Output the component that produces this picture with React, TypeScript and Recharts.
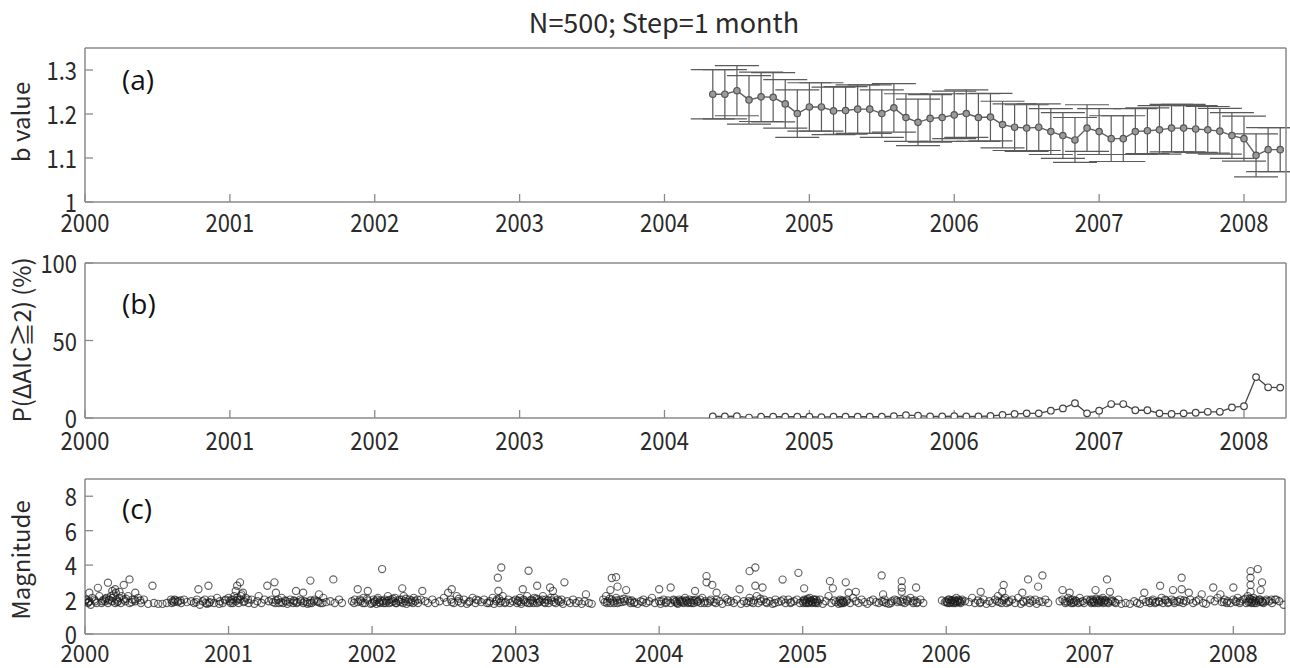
import React from 'react';
import { ComposedChart, Line, XAxis, YAxis, ErrorBar, ScatterChart, Scatter } from 'recharts';

const FONT = '"Noto Sans CJK JP", "Noto Sans", sans-serif';
const LABEL_FONT = '"Open Sans", "Noto Sans", sans-serif';

const yearTicks = [2000, 2001, 2002, 2003, 2004, 2005, 2006, 2007, 2008];
const bTicks = [1, 1.1, 1.2, 1.3];
const pTicks = [0, 50, 100];
const magTicks = [0, 2, 4, 6, 8];

// monthly windows starting May 2004 (Step = 1 month)
const firstYear = 2004;
const firstMonthIndex = 4;

const bValues = [
  1.245, 1.245, 1.253, 1.232, 1.239, 1.238, 1.223, 1.201, 1.216, 1.216, 1.207, 1.208,
  1.211, 1.211, 1.201, 1.214, 1.192, 1.181, 1.190, 1.192, 1.198, 1.201, 1.192, 1.193,
  1.176, 1.170, 1.168, 1.170, 1.160, 1.151, 1.141, 1.168, 1.160, 1.144, 1.144, 1.160,
  1.162, 1.164, 1.168, 1.168, 1.166, 1.164, 1.161, 1.151, 1.144, 1.106, 1.119, 1.119,
];

const bErrors = [
  0.056, 0.056, 0.057, 0.055, 0.056, 0.056, 0.055, 0.054, 0.055, 0.055, 0.054, 0.054,
  0.055, 0.055, 0.054, 0.055, 0.054, 0.053, 0.054, 0.054, 0.054, 0.054, 0.054, 0.054,
  0.053, 0.053, 0.053, 0.053, 0.052, 0.052, 0.051, 0.053, 0.052, 0.052, 0.052, 0.052,
  0.052, 0.055, 0.054, 0.054, 0.053, 0.053, 0.052, 0.052, 0.051, 0.049, 0.050, 0.050,
];

const pValues = [
  1.0, 1.0, 1.2, 0.3, 0.8, 0.8, 0.8, 0.8, 0.8, 0.5, 0.8, 0.8,
  0.8, 0.8, 0.8, 1.2, 1.8, 1.5, 1.0, 1.0, 1.2, 1.0, 1.0, 1.3,
  2.0, 2.6, 3.0, 3.0, 4.7, 6.2, 9.5, 3.0, 4.7, 9.0, 9.0, 5.0,
  5.0, 3.0, 2.6, 3.0, 3.4, 4.0, 4.0, 6.8, 7.6, 26.4, 19.8, 19.6,
];

const band2000: [number, number][] = [
  [2000.00,1.9],[2000.01,2.0],[2000.02,1.8],[2000.03,1.9],[2000.04,1.7],[2000.05,2.1],[2000.07,1.9],[2000.08,1.8],
  [2000.10,2.2],[2000.12,1.9],[2000.13,2.0],[2000.14,1.9],[2000.15,2.1],[2000.16,1.8],[2000.17,2.0],[2000.18,2.2],
  [2000.19,1.9],[2000.20,2.3],[2000.21,1.8],[2000.22,2.0],[2000.23,1.9],[2000.24,2.1],[2000.25,1.8],[2000.27,2.0],
  [2000.28,1.9],[2000.30,2.2],[2000.31,1.8],[2000.33,2.0],[2000.35,1.9],[2000.37,2.1],[2000.39,1.8],[2000.41,2.0],
  [2000.44,1.75],[2000.48,1.8],[2000.51,1.75],[2000.54,1.75],[2000.57,1.8],[2000.60,2.0],[2000.61,1.9],[2000.62,1.85],
  [2000.63,1.95],[2000.65,1.9],[2000.67,1.8],[2000.69,2.0],[2000.71,1.85],[2000.74,1.9],[2000.76,1.8],[2000.78,2.0],
  [2000.80,1.7],[2000.82,1.9],[2000.84,1.8],[2000.85,1.75],[2000.87,1.85],[2000.88,2.0],[2000.90,1.8],[2000.92,2.1],
  [2000.94,1.9],[2000.96,1.8],[2000.98,2.0],
  [2000.005,2.0],[2000.025,1.85],[2000.065,2.0],[2000.115,1.8],[2000.145,2.05],[2000.165,1.95],[2000.195,2.1],[2000.215,2.4],
  [2000.225,1.85],[2000.255,2.2],[2000.285,2.05],[2000.325,1.85],[2000.345,2.0],[2000.385,1.95],[2000.605,1.8],[2000.625,2.0],
  [2000.645,1.85],[2000.665,1.95],[2000.775,1.85],[2000.835,2.0],[2000.865,1.8],[2000.935,1.75],[2000.975,1.95],
];
const band2001: [number, number][] = [
  [2001.00,2.1],[2001.01,1.9],[2001.02,2.0],[2001.03,1.8],[2001.04,2.2],[2001.05,1.9],[2001.06,2.1],[2001.07,1.8],
  [2001.08,2.0],[2001.09,2.3],[2001.11,1.9],[2001.12,2.1],[2001.14,1.8],[2001.16,2.0],[2001.18,1.75],[2001.20,1.9],
  [2001.23,1.8],[2001.25,2.0],[2001.28,1.9],[2001.30,2.0],[2001.31,1.85],[2001.33,1.95],[2001.35,1.8],[2001.37,2.1],
  [2001.38,1.8],[2001.40,1.9],[2001.41,1.75],[2001.43,2.0],[2001.45,1.8],[2001.46,1.9],[2001.48,1.85],[2001.50,2.0],
  [2001.52,1.8],[2001.53,1.9],[2001.55,1.75],[2001.57,1.95],[2001.58,1.8],[2001.60,2.0],[2001.62,1.9],[2001.64,1.8],
  [2001.66,2.1],[2001.68,1.85],[2001.71,1.9],[2001.74,1.8],[2001.77,2.0],[2001.79,1.8],[2001.86,1.9],[2001.88,2.0],
  [2001.90,1.85],[2001.92,1.9],[2001.94,2.1],[2001.95,1.8],[2001.97,1.95],[2001.99,1.75],
  [2001.015,1.8],[2001.035,2.0],[2001.065,2.0],[2001.085,2.2],[2001.105,1.85],[2001.135,2.0],[2001.325,1.8],[2001.345,2.0],
  [2001.365,1.85],[2001.395,1.95],[2001.425,1.85],[2001.455,1.95],[2001.475,1.8],[2001.505,1.9],[2001.545,1.85],[2001.565,1.8],
  [2001.595,1.9],[2001.625,1.85],[2001.655,1.8],[2001.875,1.8],[2001.915,2.0],[2001.935,1.8],[2001.965,2.05],
];
const band2002: [number, number][] = [
  [2002.00,1.8],[2002.01,2.0],[2002.02,1.9],[2002.03,1.75],[2002.04,2.1],[2002.05,1.85],[2002.06,1.95],[2002.08,1.8],
  [2002.09,2.0],[2002.10,1.9],[2002.11,2.2],[2002.12,1.8],[2002.13,2.0],[2002.15,1.9],[2002.16,2.1],[2002.17,1.8],
  [2002.19,2.0],[2002.20,1.85],[2002.22,2.2],[2002.23,1.9],[2002.24,1.75],[2002.26,2.0],[2002.27,1.85],[2002.29,2.1],
  [2002.30,1.9],[2002.32,1.8],[2002.34,2.0],[2002.37,1.9],[2002.39,1.8],[2002.42,2.0],[2002.44,1.8],[2002.47,1.9],
  [2002.50,2.1],[2002.52,1.85],[2002.55,2.0],[2002.57,1.8],[2002.59,2.2],[2002.60,1.9],[2002.62,1.8],[2002.64,2.0],
  [2002.66,1.75],[2002.68,1.9],[2002.70,2.1],[2002.72,1.8],[2002.74,1.95],[2002.76,1.85],[2002.78,2.0],[2002.80,1.8],
  [2002.82,1.9],[2002.84,2.1],[2002.85,1.75],[2002.87,2.0],[2002.89,1.8],[2002.90,1.9],[2002.91,2.2],[2002.93,1.85],
  [2002.95,2.0],[2002.96,1.8],[2002.98,1.9],
  [2002.015,1.85],[2002.035,2.0],[2002.055,1.8],[2002.075,1.9],[2002.095,1.8],[2002.115,1.95],[2002.135,1.85],[2002.145,2.05],
  [2002.165,1.8],[2002.185,1.9],[2002.205,2.0],[2002.215,1.8],[2002.235,2.05],[2002.255,1.85],[2002.275,1.95],[2002.285,1.8],
  [2002.315,2.0],[2002.555,1.85],[2002.605,2.05],[2002.675,1.85],[2002.725,2.0],[2002.815,1.8],[2002.865,1.9],[2002.885,2.05],
  [2002.925,1.8],
];
const band2003: [number, number][] = [
  [2003.00,2.0],[2003.01,1.8],[2003.02,1.9],[2003.03,2.1],[2003.04,1.75],[2003.06,1.95],[2003.07,1.85],[2003.08,2.2],
  [2003.10,1.8],[2003.11,2.0],[2003.12,1.9],[2003.13,2.1],[2003.15,1.8],[2003.16,2.0],[2003.17,1.9],[2003.19,2.2],
  [2003.20,1.85],[2003.21,2.0],[2003.23,1.8],[2003.25,1.95],[2003.27,2.1],[2003.28,1.8],[2003.30,1.9],[2003.32,2.0],
  [2003.33,1.75],[2003.36,1.9],[2003.38,1.8],[2003.40,2.0],[2003.42,1.8],[2003.44,1.9],[2003.46,1.75],[2003.48,1.9],
  [2003.51,1.8],[2003.53,1.75],[2003.61,2.0],[2003.62,1.85],[2003.63,2.2],[2003.64,1.9],[2003.66,1.8],[2003.67,2.0],
  [2003.68,1.9],[2003.70,2.1],[2003.71,1.8],[2003.73,2.0],[2003.74,1.85],[2003.76,1.9],[2003.78,2.0],[2003.80,1.8],
  [2003.81,1.95],[2003.83,1.85],[2003.85,1.75],[2003.87,1.9],[2003.89,2.0],[2003.91,1.8],[2003.93,1.9],[2003.95,2.1],
  [2003.97,1.8],
  [2003.015,1.95],[2003.035,1.85],[2003.055,2.0],[2003.085,1.8],[2003.105,1.95],[2003.125,1.8],[2003.145,2.05],[2003.165,1.85],
  [2003.185,2.0],[2003.205,1.8],[2003.225,1.95],[2003.245,2.1],[2003.265,1.85],[2003.295,2.0],[2003.315,1.85],[2003.635,1.8],
  [2003.655,2.05],[2003.685,1.8],[2003.705,1.95],[2003.725,1.85],[2003.755,2.05],[2003.795,1.9],[2003.825,1.8],[2003.885,1.85],
];
const band2004: [number, number][] = [
  [2004.00,1.9],[2004.01,1.75],[2004.03,2.0],[2004.05,1.85],[2004.06,1.95],[2004.08,1.8],[2004.10,2.0],[2004.11,1.85],
  [2004.12,1.9],[2004.13,1.75],[2004.14,2.0],[2004.15,1.85],[2004.16,1.95],[2004.17,1.8],[2004.18,2.1],[2004.19,1.9],
  [2004.20,1.8],[2004.21,2.0],[2004.22,1.85],[2004.23,1.95],[2004.24,1.8],[2004.26,2.0],[2004.27,1.9],[2004.29,1.8],
  [2004.30,2.1],[2004.32,1.9],[2004.34,1.8],[2004.36,2.0],[2004.38,1.85],[2004.40,2.0],[2004.42,1.9],[2004.44,1.75],
  [2004.46,2.1],[2004.48,1.85],[2004.50,1.9],[2004.52,1.8],[2004.54,2.0],[2004.57,1.75],[2004.59,1.9],[2004.61,1.8],
  [2004.63,2.1],[2004.64,1.85],[2004.66,1.95],[2004.68,2.2],[2004.69,1.8],[2004.71,1.9],[2004.73,2.0],[2004.75,1.8],
  [2004.77,1.9],[2004.79,1.75],[2004.81,2.0],[2004.83,1.85],[2004.85,1.9],[2004.88,1.8],[2004.90,2.0],[2004.92,1.85],
  [2004.94,1.9],[2004.96,2.0],[2004.98,1.8],
  [2004.015,1.9],[2004.045,1.8],[2004.105,1.95],[2004.125,1.8],[2004.145,1.9],[2004.165,1.85],[2004.185,1.95],[2004.205,1.85],
  [2004.225,1.8],[2004.245,1.95],[2004.265,1.85],[2004.285,2.0],[2004.315,1.8],[2004.355,1.9],[2004.395,1.8],[2004.475,2.0],
  [2004.625,1.9],[2004.655,1.8],[2004.705,2.05],[2004.745,1.85],[2004.805,1.8],[2004.865,2.0],[2004.915,1.8],
];
const band2005: [number, number][] = [
  [2005.00,1.9],[2005.01,2.0],[2005.02,1.85],[2005.03,1.95],[2005.04,1.8],[2005.05,2.1],[2005.06,1.9],[2005.07,1.85],
  [2005.08,2.0],[2005.09,1.8],[2005.10,1.9],[2005.12,2.0],[2005.14,1.75],[2005.16,1.9],[2005.18,2.2],[2005.20,1.8],
  [2005.22,1.95],[2005.23,1.85],[2005.25,1.75],[2005.26,2.0],[2005.27,1.8],[2005.28,1.9],[2005.29,1.85],[2005.31,2.0],
  [2005.33,1.8],[2005.35,2.1],[2005.37,1.9],[2005.39,1.8],[2005.41,2.0],[2005.43,1.85],[2005.45,1.75],[2005.47,1.9],
  [2005.49,2.0],[2005.51,1.85],[2005.53,1.8],[2005.55,1.9],[2005.57,2.0],[2005.58,1.8],[2005.60,1.75],[2005.62,1.9],
  [2005.64,2.0],[2005.66,1.85],[2005.68,1.9],[2005.70,2.0],[2005.71,1.8],[2005.73,1.9],[2005.75,2.1],[2005.77,1.8],
  [2005.78,1.95],[2005.80,1.85],[2005.82,2.0],[2005.84,1.8],[2005.97,1.95],[2005.99,1.85],
  [2005.005,1.8],[2005.015,1.95],[2005.025,1.8],[2005.035,2.05],[2005.045,1.85],[2005.055,1.95],[2005.065,1.8],[2005.075,2.0],
  [2005.085,1.85],[2005.095,2.0],[2005.105,1.8],[2005.255,1.9],[2005.265,1.8],[2005.275,1.95],[2005.285,1.8],[2005.305,1.9],
  [2005.565,1.85],[2005.615,1.8],[2005.655,1.95],[2005.695,1.85],[2005.725,2.0],[2005.765,1.9],[2005.795,1.8],
];
const band2006: [number, number][] = [
  [2006.00,1.9],[2006.01,1.8],[2006.02,2.0],[2006.03,1.85],[2006.04,1.95],[2006.05,1.8],[2006.06,1.9],[2006.07,2.1],
  [2006.08,1.85],[2006.09,1.95],[2006.10,1.8],[2006.11,2.0],[2006.13,1.9],[2006.16,1.85],[2006.18,2.1],[2006.20,1.8],
  [2006.22,1.95],[2006.24,1.85],[2006.26,2.0],[2006.28,1.75],[2006.30,1.9],[2006.32,1.8],[2006.34,2.0],[2006.36,2.2],
  [2006.37,1.85],[2006.39,1.95],[2006.41,2.1],[2006.42,1.8],[2006.44,1.9],[2006.46,2.0],[2006.48,1.8],[2006.50,2.1],
  [2006.52,1.75],[2006.54,1.85],[2006.56,1.95],[2006.58,1.8],[2006.60,1.9],[2006.62,2.0],[2006.63,1.75],[2006.65,1.9],
  [2006.67,1.85],[2006.69,2.0],[2006.71,1.8],[2006.79,1.9],[2006.81,2.0],[2006.83,1.8],[2006.85,2.1],[2006.86,1.9],
  [2006.87,1.8],[2006.88,2.0],[2006.89,1.85],[2006.90,1.95],[2006.92,1.8],[2006.93,2.1],[2006.95,1.9],[2006.96,1.8],
  [2006.98,2.0],
  [2006.005,1.85],[2006.015,2.0],[2006.025,1.8],[2006.035,1.95],[2006.045,1.85],[2006.055,2.0],[2006.065,1.8],[2006.075,1.9],
  [2006.085,2.0],[2006.095,1.85],[2006.105,1.9],[2006.235,1.8],[2006.355,1.9],[2006.385,1.8],[2006.405,2.0],[2006.435,1.85],
  [2006.535,1.9],[2006.585,2.0],[2006.825,1.9],[2006.845,1.85],[2006.865,2.0],[2006.885,1.8],[2006.905,1.9],[2006.935,1.85],
];
const band2007: [number, number][] = [
  [2007.00,1.9],[2007.01,1.8],[2007.02,2.0],[2007.03,1.85],[2007.05,1.95],[2007.06,1.8],[2007.07,2.0],[2007.08,1.9],
  [2007.09,2.1],[2007.10,1.85],[2007.11,1.95],[2007.13,1.8],[2007.15,2.0],[2007.16,1.9],[2007.18,1.8],[2007.20,2.0],
  [2007.22,1.75],[2007.25,1.8],[2007.28,1.75],[2007.31,1.9],[2007.33,1.8],[2007.35,1.75],[2007.37,2.0],[2007.39,1.85],
  [2007.41,1.9],[2007.42,1.8],[2007.44,2.0],[2007.46,1.85],[2007.48,1.9],[2007.50,2.1],[2007.51,1.8],[2007.53,1.95],
  [2007.55,1.85],[2007.57,2.0],[2007.59,1.8],[2007.61,1.9],[2007.63,2.0],[2007.65,1.8],[2007.67,1.9],[2007.70,2.0],
  [2007.72,1.8],[2007.74,1.9],[2007.76,2.0],[2007.79,1.8],[2007.81,1.75],[2007.84,2.0],[2007.87,1.9],[2007.89,2.1],
  [2007.92,1.85],[2007.94,2.0],[2007.96,1.9],[2007.98,1.8],
  [2007.005,2.0],[2007.015,1.85],[2007.025,1.9],[2007.035,1.8],[2007.045,2.05],[2007.065,1.9],[2007.075,1.85],[2007.085,2.0],
  [2007.095,1.8],[2007.105,1.95],[2007.125,1.85],[2007.145,1.9],[2007.175,1.85],[2007.435,1.9],[2007.455,1.8],[2007.485,1.85],
  [2007.525,2.0],[2007.545,1.8],[2007.585,1.9],[2007.625,1.85],[2007.655,1.95],[2007.935,1.85],[2007.955,1.8],
];
const band2008: [number, number][] = [
  [2008.00,2.0],[2008.02,1.85],[2008.03,2.1],[2008.05,1.9],[2008.07,2.0],[2008.09,1.8],[2008.10,2.2],[2008.11,1.9],
  [2008.12,2.0],[2008.13,1.85],[2008.14,2.1],[2008.15,1.9],[2008.16,1.8],[2008.18,2.0],[2008.19,1.85],[2008.20,1.9],
  [2008.21,1.8],[2008.23,2.0],[2008.25,1.9],[2008.27,1.8],[2008.29,2.0],[2008.32,1.9],
  [2008.015,1.9],[2008.045,1.8],[2008.085,2.05],[2008.105,1.85],[2008.115,2.05],[2008.125,1.8],[2008.135,1.95],[2008.145,1.8],
  [2008.155,2.0],[2008.175,1.9],[2008.185,2.0],[2008.205,1.85],[2008.225,1.9],[2008.265,2.0],
];
const largerEvents: [number, number][] = [
  [2000.03,2.4],[2000.09,2.68],[2000.16,2.98],[2000.19,2.5],[2000.21,2.6],[2000.24,2.45],[2000.27,2.85],[2000.31,3.17],
  [2000.35,2.4],[2000.47,2.8],[2000.79,2.6],[2000.86,2.8],[2001.05,2.5],[2001.06,2.8],[2001.08,3.0],[2001.10,2.4],
  [2001.21,2.2],[2001.27,2.8],[2001.32,3.0],[2001.33,2.4],[2001.47,2.5],[2001.52,2.4],[2001.57,3.1],[2001.63,2.3],
  [2001.73,3.17],[2001.90,2.6],[2001.97,2.5],[2002.07,3.77],[2002.21,2.65],[2002.35,2.5],[2002.53,2.4],[2002.555,2.6],
  [2002.876,3.27],[2002.90,3.86],[2002.88,2.5],[2003.05,2.6],[2003.09,3.67],[2003.15,2.8],[2003.24,2.7],[2003.26,2.5],
  [2003.34,3.0],[2003.49,2.3],[2003.67,3.25],[2003.70,3.3],[2003.66,2.55],[2003.71,2.75],[2003.77,2.55],[2004.00,2.6],
  [2004.08,2.7],[2004.25,2.5],[2004.33,3.36],[2004.33,3.0],[2004.37,2.85],[2004.40,2.4],[2004.56,2.6],[2004.63,3.65],
  [2004.67,3.86],[2004.67,2.8],[2004.72,2.7],[2004.86,3.16],[2004.97,3.55],[2005.01,2.65],[2005.19,3.07],[2005.21,2.65],
  [2005.30,3.0],[2005.32,2.4],[2005.37,2.45],[2005.55,3.4],[2005.69,3.07],[2005.69,2.7],[2005.69,2.45],[2005.79,2.7],
  [2005.56,2.3],[2006.24,2.45],[2006.40,2.85],[2006.39,2.45],[2006.53,2.4],[2006.57,3.17],[2006.64,2.75],[2006.67,3.4],
  [2006.81,2.55],[2006.86,2.4],[2007.04,2.55],[2007.12,3.17],[2007.14,2.45],[2007.38,2.4],[2007.49,2.8],[2007.58,2.55],
  [2007.64,3.27],[2007.64,2.6],[2007.69,2.4],[2007.78,2.3],[2007.86,2.7],[2008.00,2.7],[2007.91,2.3],[2008.12,3.65],
  [2008.17,3.77],[2008.12,3.27],[2008.12,2.85],[2008.20,3.0],[2008.19,2.55],[2008.12,2.45],[2008.30,2.0],[2008.35,1.7],
];

const windowData = bValues.map((b, i) => ({
  x: firstYear + (firstMonthIndex + i) / 12,
  b,
  err: bErrors[i],
  p: pValues[i],
}));

const quakeData = [
  ...band2000, ...band2001, ...band2002, ...band2003, ...band2004,
  ...band2005, ...band2006, ...band2007, ...band2008, ...largerEvents,
].map(([x, m]) => ({ x, m }));

const AXIS_COLOR = '#8a8a8a';
const TEXT_COLOR = '#2a2a2a';
const axisLineStyle = { stroke: AXIS_COLOR, strokeWidth: 1.5 };
const tickLineStyle = { stroke: AXIS_COLOR, strokeWidth: 1.3 };

const makeBottomTick = (offset: number, sy: number) => (props: any) => {
  const { x, y, payload } = props;
  return (
    <text
      transform={`translate(${x},${y + offset}) scale(1,${sy})`}
      textAnchor="middle"
      fontSize={22}
      fill={TEXT_COLOR}
      fontFamily={FONT}
    >
      {String(payload.value)}
    </text>
  );
};

const LeftTick = (props: any) => {
  const { x, y, payload } = props;
  return (
    <text
      transform={`translate(${x},${y + 10}) scale(1,1.15)`}
      textAnchor="end"
      fontSize={22}
      fill={TEXT_COLOR}
      fontFamily={FONT}
    >
      {String(payload.value)}
    </text>
  );
};

const QuakeCircle = (props: any) => {
  const { cx, cy } = props;
  if (cx == null || cy == null) return null;
  return <circle cx={cx} cy={cy} r={3.6} fill="none" stroke="#1a1a1a" strokeOpacity={0.68} strokeWidth={1.15} />;
};

const NoShape = () => null;

const topAxis = (xDomain: [number, number]) => (
  <XAxis
    xAxisId="top"
    orientation="top"
    dataKey="x"
    type="number"
    domain={xDomain}
    ticks={yearTicks}
    allowDataOverflow
    height={1}
    tick={false}
    tickSize={-8}
    axisLine={axisLineStyle}
    tickLine={tickLineStyle}
  />
);

const rightAxis = (yDomain: [number, number], yTicks: number[], key: string) => (
  <YAxis
    yAxisId="right"
    orientation="right"
    dataKey={key}
    type="number"
    domain={yDomain}
    ticks={yTicks}
    allowDataOverflow
    width={1}
    tick={false}
    tickSize={-8}
    axisLine={axisLineStyle}
    tickLine={tickLineStyle}
  />
);

const xDomainAB: [number, number] = [2000, 2008.29];
const xDomainC: [number, number] = [2000, 2008.36];

export default function App() {
  return (
    <div style={{ position: 'absolute', left: 0, top: 0, width: 1290, height: 668, background: '#fff', fontFamily: FONT }}>
      {/* (a) b value */}
      <div style={{ position: 'absolute', left: 0, top: 0 }}>
        <ComposedChart width={1290} height={240} data={windowData} margin={{ top: 47, right: 3, bottom: 8, left: 25 }}>
          <XAxis
            dataKey="x"
            type="number"
            domain={xDomainAB}
            ticks={yearTicks}
            allowDataOverflow
            height={30}
            tickSize={-8}
            tickMargin={0}
            tick={makeBottomTick(38, 1.15)}
            axisLine={axisLineStyle}
            tickLine={tickLineStyle}
          />
          <YAxis
            type="number"
            domain={[1, 1.35]}
            ticks={bTicks}
            allowDataOverflow
            width={60}
            tickSize={-8}
            tickMargin={16}
            tick={<LeftTick />}
            axisLine={axisLineStyle}
            tickLine={tickLineStyle}
          />
          {topAxis(xDomainAB)}
          {rightAxis([1, 1.35], bTicks, 'b')}
          <Line
            xAxisId="top"
            yAxisId="right"
            dataKey="b"
            stroke="none"
            dot={false}
            activeDot={false}
            legendType="none"
            isAnimationActive={false}
          />
          <Line
            dataKey="b"
            stroke="#5f5f5f"
            strokeWidth={1.4}
            isAnimationActive={false}
            dot={{ r: 3.2, fill: '#9a9a9a', stroke: '#555', strokeWidth: 1.2 }}
          >
            <ErrorBar dataKey="err" width={22} stroke="#5a5a5a" strokeWidth={1.2} direction="y" />
          </Line>
        </ComposedChart>
      </div>

      {/* (b) probability */}
      <div style={{ position: 'absolute', left: 0, top: 240 }}>
        <ComposedChart width={1290} height={220} data={windowData} margin={{ top: 22, right: 3, bottom: 12, left: 25 }}>
          <XAxis
            dataKey="x"
            type="number"
            domain={xDomainAB}
            ticks={yearTicks}
            allowDataOverflow
            height={30}
            tickSize={-8}
            tickMargin={0}
            tick={makeBottomTick(40, 1.15)}
            axisLine={axisLineStyle}
            tickLine={tickLineStyle}
          />
          <YAxis
            type="number"
            domain={[0, 100]}
            ticks={pTicks}
            allowDataOverflow
            width={60}
            tickSize={-8}
            tickMargin={16}
            tick={<LeftTick />}
            axisLine={axisLineStyle}
            tickLine={tickLineStyle}
          />
          {topAxis(xDomainAB)}
          {rightAxis([0, 100], pTicks, 'p')}
          <Line
            xAxisId="top"
            yAxisId="right"
            dataKey="p"
            stroke="none"
            dot={false}
            activeDot={false}
            legendType="none"
            isAnimationActive={false}
          />
          <Line
            dataKey="p"
            stroke="#444"
            strokeWidth={1.3}
            isAnimationActive={false}
            dot={{ r: 3.3, fill: '#fff', stroke: '#444', strokeWidth: 1.2 }}
          />
        </ComposedChart>
      </div>

      {/* (c) magnitude */}
      <div style={{ position: 'absolute', left: 0, top: 460 }}>
        <ScatterChart width={1290} height={208} margin={{ top: 18, right: 4, bottom: 4, left: 25 }}>
          <XAxis
            dataKey="x"
            type="number"
            domain={xDomainC}
            ticks={yearTicks}
            allowDataOverflow
            height={30}
            tickSize={-8}
            tickMargin={0}
            tick={makeBottomTick(36, 1.1)}
            axisLine={axisLineStyle}
            tickLine={tickLineStyle}
          />
          <YAxis
            dataKey="m"
            type="number"
            domain={[0, 9]}
            ticks={magTicks}
            allowDataOverflow
            width={60}
            tickSize={-8}
            tickMargin={16}
            tick={<LeftTick />}
            axisLine={axisLineStyle}
            tickLine={tickLineStyle}
          />
          {topAxis(xDomainC)}
          {rightAxis([0, 9], magTicks, 'm')}
          <Scatter xAxisId="top" yAxisId="right" data={quakeData} shape={<NoShape />} legendType="none" isAnimationActive={false} />
          <Scatter data={quakeData} shape={<QuakeCircle />} isAnimationActive={false} />
        </ScatterChart>
      </div>

      {/* texts */}
      <svg width={1290} height={668} style={{ position: 'absolute', left: 0, top: 0, pointerEvents: 'none' }}>
        <text x={664} y={33} textAnchor="middle" fontSize={27} fill={TEXT_COLOR} fontFamily={FONT}>
          N=500; Step=1 month
        </text>
        <text x={122} y={90} fontSize={28} fill="#111" fontFamily={LABEL_FONT}>(a)</text>
        <text x={122} y={314} fontSize={28} fill="#111" fontFamily={LABEL_FONT}>(b)</text>
        <text x={122} y={519} fontSize={28} fill="#111" fontFamily={LABEL_FONT}>(c)</text>
        <text transform="translate(30,122) rotate(-90)" textAnchor="middle" fontSize={24} fill={TEXT_COLOR} fontFamily={FONT}>
          b value
        </text>
        <text transform="translate(31,340) rotate(-90)" textAnchor="middle" fontSize={24} fill={TEXT_COLOR} fontFamily={FONT}>
          P(ΔAIC≧2) (%)
        </text>
        <text transform="translate(30,560) rotate(-90)" textAnchor="middle" fontSize={24} fill={TEXT_COLOR} fontFamily={FONT}>
          Magnitude
        </text>
      </svg>
    </div>
  );
}
